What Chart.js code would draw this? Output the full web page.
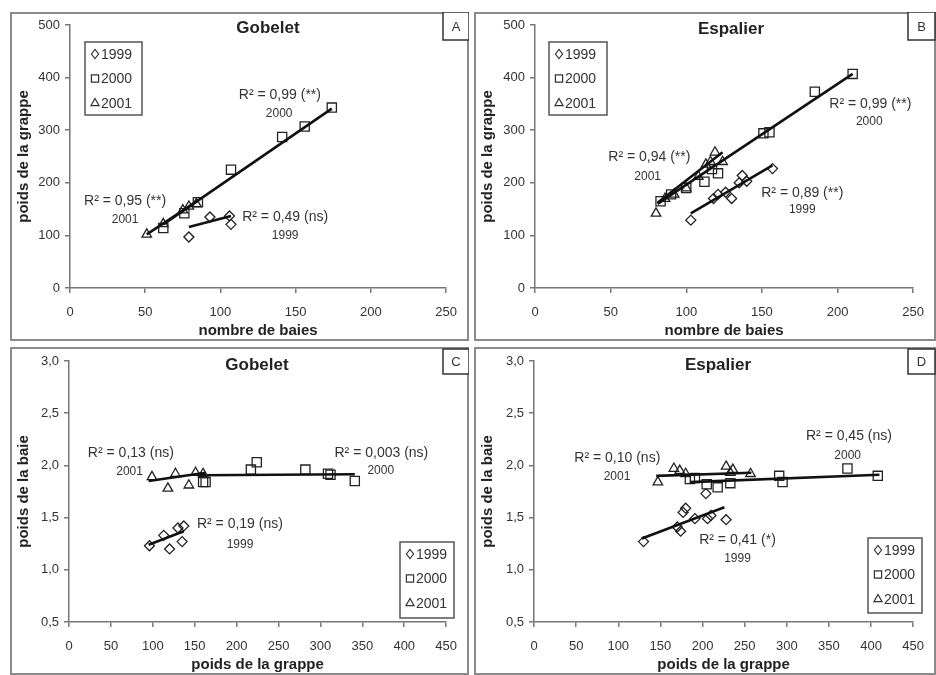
<!DOCTYPE html>
<html>
<head>
<meta charset="utf-8">
<script src="https://cdn.jsdelivr.net/npm/chart.js@4.4.1/dist/chart.umd.min.js"></script>
<style>
    body { margin: 0; background: #fff; }
    #fig { position: relative; width: 936px; height: 675px; overflow: hidden; background: #fff; }
    canvas { position: absolute; }
</style>
</head>
<body>
<div id="fig">
    <canvas id="cA" width="459" height="329" style="left:10px;top:12px"></canvas>
    <canvas id="cB" width="462" height="329" style="left:474px;top:12px"></canvas>
    <canvas id="cC" width="459" height="328" style="left:10px;top:347px"></canvas>
    <canvas id="cD" width="462" height="328" style="left:474px;top:347px"></canvas>
</div>
<script>
// --- DONNEES ---
// A : Gobelet, nombre de baies / poids de la grappe
const a1999x = [79, 93, 106, 107];
const a1999y = [97, 135, 137, 121];
const a2000x = [62, 76, 85, 107, 141, 156, 174];
const a2000y = [114, 142, 163, 225, 287, 307, 343];
const a2001x = [51, 62, 75, 79, 84];
const a2001y = [102, 122, 148, 155, 160];
const aTrend1999 = [[79, 116], [107, 137]];
const aTrend2000 = [[62, 121], [174, 341]];
const aTrend2001 = [[51, 102], [85, 166]];

// B : Espalier, nombre de baies / poids de la grappe
const b1999x = [103, 118, 121, 126, 130, 135, 137, 140, 157];
const b1999y = [129, 170, 178, 182, 170, 200, 214, 203, 227];
const b2000x = [83, 90, 100, 112, 117, 121, 151, 155, 185, 210];
const b2000y = [165, 178, 190, 202, 226, 218, 294, 296, 373, 407];
const b2001x = [80, 86, 92, 100, 108, 113, 116, 119, 124];
const b2001y = [142, 170, 178, 190, 212, 235, 240, 258, 240];
const bTrend1999 = [[103, 142], [157, 233]];
const bTrend2000 = [[81, 160], [210, 407]];
const bTrend2001 = [[81, 162], [124, 258]];

// C : Gobelet, poids de la grappe / poids de la baie
const c1999x = [96, 113, 120, 130, 135, 137];
const c1999y = [1.23, 1.33, 1.20, 1.40, 1.27, 1.42];
const c2000x = [160, 163, 217, 224, 282, 309, 312, 341];
const c2000y = [1.84, 1.84, 1.96, 2.03, 1.96, 1.92, 1.91, 1.85];
const c2001x = [99, 118, 127, 143, 151, 160];
const c2001y = [1.89, 1.78, 1.92, 1.81, 1.93, 1.92];
const cTrend1999 = [[95, 1.24], [137, 1.37]];
const cTrend2000 = [[155, 1.905], [341, 1.915]];
const cTrend2001 = [[95, 1.85], [163, 1.93]];

// D : Espalier, poids de la grappe / poids de la baie
const d1999x = [130, 170, 174, 177, 180, 191, 204, 206, 210, 228];
const d1999y = [1.27, 1.41, 1.37, 1.55, 1.59, 1.49, 1.73, 1.49, 1.52, 1.48];
const d2000x = [185, 191, 205, 218, 233, 291, 295, 372, 408];
const d2000y = [1.87, 1.88, 1.82, 1.79, 1.83, 1.90, 1.84, 1.97, 1.90];
const d2001x = [147, 166, 173, 180, 228, 233, 236, 257];
const d2001y = [1.84, 1.97, 1.95, 1.92, 1.99, 1.93, 1.96, 1.92];
const dTrend1999 = [[128, 1.30], [226, 1.60]];
const dTrend2000 = [[185, 1.84], [410, 1.91]];
const dTrend2001 = [[145, 1.90], [258, 1.93]];

// graduations
const ticksBaies = [0, 50, 100, 150, 200, 250];
const ticksGrappeAB = [0, 100, 200, 300, 400, 500];
const ticksGrappeCD = [0, 50, 100, 150, 200, 250, 300, 350, 400, 450];
const ticksBaie = [0.5, 1.0, 1.5, 2.0, 2.5, 3.0];

const years = ['1999', '2000', '2001'];
const FONT = '"Liberation Sans", Arial, sans-serif';
const styles = { '1999': 'rectRot', '2000': 'rect', '2001': 'triangle' };
const radii = { '1999': 5, '2000': 6.5, '2001': 5.5 };

const pts = (xs, ys) => xs.map((x, i) => ({ x: x, y: ys[i] }));
const seg = (t) => t.map(p => ({ x: p[0], y: p[1] }));
const virgule = v => v.toFixed(1).replace('.', ',');

// dessine un marqueur pour la légende
function marque(ctx, style, x, y, r) {
    ctx.beginPath();
    if (style === 'rectRot') {
        ctx.moveTo(x - r * 0.8, y); ctx.lineTo(x, y - r); ctx.lineTo(x + r * 0.8, y); ctx.lineTo(x, y + r);
    } else if (style === 'rect') {
        ctx.rect(x - r * 0.8, y - r * 0.8, r * 1.6, r * 1.6);
    } else {
        ctx.moveTo(x, y - r); ctx.lineTo(x + r * 0.9, y + r * 0.6); ctx.lineTo(x - r * 0.9, y + r * 0.6);
    }
    ctx.closePath();
    ctx.stroke();
}

const decor = {
    id: 'decor',
    afterDraw(chart, args, o) {
        const ctx = chart.ctx;
        const W = chart.width, H = chart.height;
        const xs = chart.scales.x, ys = chart.scales.y;
        ctx.save();
        // cadre du panneau
        ctx.strokeStyle = '#8a8a8a';
        ctx.lineWidth = 2;
        ctx.strokeRect(1, 1, W - 2, H - 2);
        // case de la lettre
        ctx.strokeStyle = '#333';
        ctx.lineWidth = 1.5;
        ctx.fillStyle = '#fff';
        ctx.fillRect(o.box[0], o.box[1], o.box[2], o.box[3]);
        ctx.strokeRect(o.box[0], o.box[1], o.box[2], o.box[3]);
        ctx.fillStyle = '#333';
        ctx.textAlign = 'center';
        ctx.textBaseline = 'middle';
        ctx.font = '13px ' + FONT;
        ctx.fillText(o.letter, o.box[0] + o.box[2] / 2, o.box[1] + o.box[3] / 2 + 1);
        // titre
        ctx.fillStyle = '#222';
        ctx.font = 'bold 17px ' + FONT;
        ctx.fillText(o.title, o.titlePos[0], o.titlePos[1]);
        // annotations R²
        o.notes.forEach(n => {
            ctx.font = (n.small ? '12px ' : '14px ') + FONT;
            ctx.fillStyle = '#333';
            ctx.fillText(n.t, xs.getPixelForValue(n.x), ys.getPixelForValue(n.y));
        });
        // légende
        const L = o.legend;
        ctx.strokeStyle = '#555';
        ctx.lineWidth = 1.5;
        ctx.strokeRect(L[0], L[1], L[2], L[3]);
        ctx.textAlign = 'left';
        ctx.font = '14px ' + FONT;
        years.forEach((yr, i) => {
            const cy = L[1] + 12 + i * L[4];
            ctx.strokeStyle = '#333';
            ctx.lineWidth = 1.2;
            marque(ctx, styles[yr], L[0] + 10, cy, 4.5);
            ctx.fillStyle = '#333';
            ctx.fillText(yr, L[0] + 16, cy + 1);
        });
        ctx.restore();
    }
};

function axe(ticks, fmt, title, fit, isX) {
    return {
        type: 'linear',
        min: ticks[0],
        max: ticks[ticks.length - 1],
        afterBuildTicks: s => { s.ticks = ticks.map(v => ({ value: v })); },
        afterFit: s => { if (isX) s.height = fit; else s.width = fit; },
        grid: { display: true, drawOnChartArea: false, drawTicks: true, tickLength: 5, color: '#777', lineWidth: 1.5 },
        border: { display: true, color: '#777', width: 1.5 },
        ticks: {
            padding: isX ? 12 : 5,
            color: '#333',
            autoSkip: false,
            maxRotation: 0,
            font: { size: 13, family: FONT },
            callback: v => fmt(v)
        },
        title: {
            display: true,
            text: title,
            color: '#222',
            font: { size: 15, weight: 'bold', family: FONT },
            padding: isX ? { top: 0, bottom: 1 } : { top: 5, bottom: 0 }
        }
    };
}

function panneau(id, p) {
    const sets = [];
    [p.t1999, p.t2000, p.t2001].forEach(t => {
        sets.push({ data: seg(t), showLine: true, pointRadius: 0, borderColor: '#111', borderWidth: 2.6 });
    });
    years.forEach((yr, i) => {
        sets.push({
            data: p.series[i],
            pointStyle: styles[yr],
            pointRadius: radii[yr],
            borderColor: '#222',
            backgroundColor: 'rgba(255,255,255,0)',
            borderWidth: 1.3,
            showLine: false
        });
    });
    return new Chart(document.getElementById(id), {
        type: 'scatter',
        data: { datasets: sets },
        options: {
            responsive: false,
            animation: false,
            devicePixelRatio: 1,
            layout: { padding: { left: 0, top: p.top, right: p.right, bottom: 0 } },
            plugins: { legend: { display: false }, tooltip: { enabled: false }, decor: p.decor },
            scales: {
                x: axe(p.xTicks, v => String(v), p.xTitle, 53, true),
                y: axe(p.yTicks, p.yFmt, p.yTitle, p.leftW, false)
            }
        },
        plugins: [decor]
    });
}

panneau('cA', {
    series: [pts(a1999x, a1999y), pts(a2000x, a2000y), pts(a2001x, a2001y)],
    t1999: aTrend1999, t2000: aTrend2000, t2001: aTrend2001,
    xTicks: ticksBaies, yTicks: ticksGrappeAB, yFmt: v => String(v),
    xTitle: 'nombre de baies', yTitle: 'poids de la grappe',
    top: 13, right: 10, leftW: 60,
    decor: {
        title: 'Gobelet', titlePos: [258, 16], letter: 'A', box: [433, 0, 26, 28],
        legend: [75, 30, 57, 73, 24.5],
        notes: [
            { x: 139.5, y: 366, t: 'R² = 0,99 (**)' }, { x: 139, y: 332, t: '2000', small: true },
            { x: 36.6, y: 165, t: 'R² = 0,95 (**)' }, { x: 36.6, y: 129, t: '2001', small: true },
            { x: 143, y: 135, t: 'R² = 0,49 (ns)' }, { x: 143, y: 99, t: '1999', small: true }
        ]
    }
});

panneau('cB', {
    series: [pts(b1999x, b1999y), pts(b2000x, b2000y), pts(b2001x, b2001y)],
    t1999: bTrend1999, t2000: bTrend2000, t2001: bTrend2001,
    xTicks: ticksBaies, yTicks: ticksGrappeAB, yFmt: v => String(v),
    xTitle: 'nombre de baies', yTitle: 'poids de la grappe',
    top: 13, right: 12, leftW: 61,
    decor: {
        title: 'Espalier', titlePos: [257, 17], letter: 'B', box: [434, 0, 27, 28],
        legend: [75, 30, 58, 73, 24.5],
        notes: [
            { x: 221.7, y: 349, t: 'R² = 0,99 (**)' }, { x: 221, y: 317, t: '2000', small: true },
            { x: 75.6, y: 248.6, t: 'R² = 0,94 (**)' }, { x: 74.5, y: 211, t: '2001', small: true },
            { x: 176.7, y: 180, t: 'R² = 0,89 (**)' }, { x: 176.7, y: 148, t: '1999', small: true }
        ]
    }
});

panneau('cC', {
    series: [pts(c1999x, c1999y), pts(c2000x, c2000y), pts(c2001x, c2001y)],
    t1999: cTrend1999, t2000: cTrend2000, t2001: cTrend2001,
    xTicks: ticksGrappeCD, yTicks: ticksBaie, yFmt: virgule,
    xTitle: 'poids de la grappe', yTitle: 'poids de la baie',
    top: 14, right: 10, leftW: 59,
    decor: {
        title: 'Gobelet', titlePos: [247, 18], letter: 'C', box: [433, 2, 26, 25],
        legend: [390, 195, 54, 76, 24.5],
        notes: [
            { x: 73.8, y: 2.116, t: 'R² = 0,13 (ns)' }, { x: 72.3, y: 1.937, t: '2001', small: true },
            { x: 372.7, y: 2.12, t: 'R² = 0,003 (ns)' }, { x: 372, y: 1.946, t: '2000', small: true },
            { x: 203.9, y: 1.436, t: 'R² = 0,19 (ns)' }, { x: 204, y: 1.244, t: '1999', small: true }
        ]
    }
});

panneau('cD', {
    series: [pts(d1999x, d1999y), pts(d2000x, d2000y), pts(d2001x, d2001y)],
    t1999: dTrend1999, t2000: dTrend2000, t2001: dTrend2001,
    xTicks: ticksGrappeCD, yTicks: ticksBaie, yFmt: virgule,
    xTitle: 'poids de la grappe', yTitle: 'poids de la baie',
    top: 14, right: 12, leftW: 60,
    decor: {
        title: 'Espalier', titlePos: [244, 18], letter: 'D', box: [434, 2, 27, 25],
        legend: [394, 191, 54, 75, 24.5],
        notes: [
            { x: 98.9, y: 2.07, t: 'R² = 0,10 (ns)' }, { x: 98.5, y: 1.89, t: '2001', small: true },
            { x: 373.8, y: 2.28, t: 'R² = 0,45 (ns)' }, { x: 372.3, y: 2.097, t: '2000', small: true },
            { x: 241.5, y: 1.285, t: 'R² = 0,41 (*)' }, { x: 241.5, y: 1.106, t: '1999', small: true }
        ]
    }
});
</script>
</body>
</html>
